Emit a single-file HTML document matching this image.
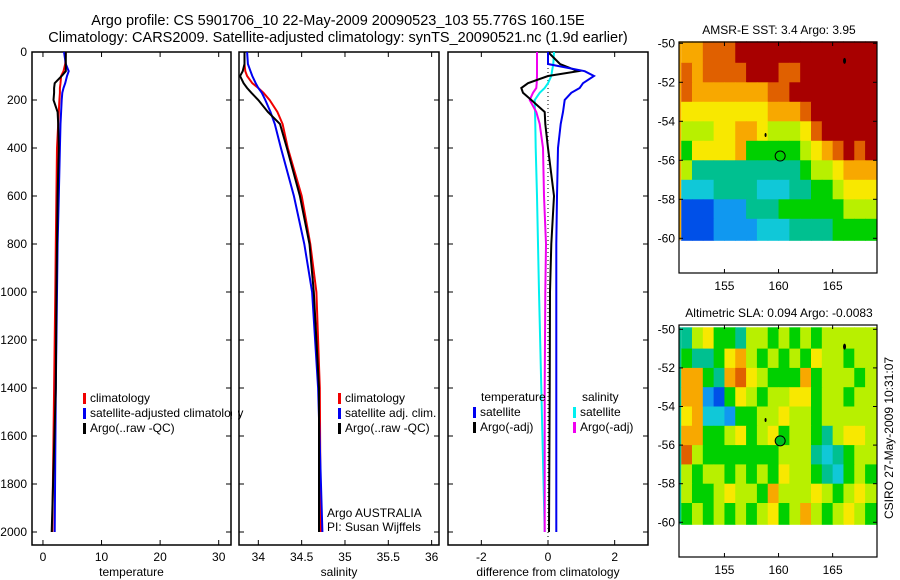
<!DOCTYPE html>
<html><head><meta charset="utf-8"><style>
body{margin:0;background:#fff;}
svg{display:block;font-family:"Liberation Sans",sans-serif;font-size:12px;}
</style></head><body>
<svg id="fig" width="900" height="580" xmlns="http://www.w3.org/2000/svg">
<text x="338" y="25" text-anchor="middle" font-size="14.5">Argo profile: CS 5901706_10 22-May-2009 20090523_103 55.776S 160.15E</text>
<text x="338" y="42" text-anchor="middle" font-size="14.5">Climatology: CARS2009. Satellite-adjusted climatology: synTS_20090521.nc (1.9d earlier)</text>
<g id="g"></g>
</svg>
<script>
// ---- data ----
const depths = [0,50,80,100,130,150,170,200,250,300,400,600,800,1000,1400,2000];
const tClim = [3.9,3.8,3.5,3.1,3.0,2.9,2.9,2.8,2.7,2.6,2.4,2.3,2.2,2.1,1.9,1.6];
const tSat  = [3.6,3.9,4.4,4.1,3.8,3.5,3.3,3.2,3.1,3.0,2.9,2.7,2.5,2.4,2.2,2.0];
const tArgo = [3.9,3.9,3.9,3.2,2.0,1.9,1.9,1.8,2.5,2.6,2.7,2.5,2.4,2.3,2.2,1.5];
const sClim = [33.84,33.84,33.85,33.87,33.93,34.0,34.06,34.13,34.22,34.28,34.34,34.5,34.6,34.67,34.71,34.72];
const sSat  = [33.87,33.88,33.91,33.93,33.97,34.0,34.04,34.08,34.14,34.19,34.26,34.41,34.53,34.62,34.69,34.74];
const sArgo = [33.84,33.84,33.82,33.79,33.83,33.87,33.92,34.0,34.11,34.25,34.33,34.48,34.59,34.64,34.7,34.7];
const dTSat  = [0,0,1.1,1.38,1.05,0.95,0.7,0.5,0.45,0.38,0.3,0.27,0.25,0.25,0.25,0.25];
const dTArgo = [0,0.36,0.9,0,-0.6,-0.8,-0.75,-0.5,-0.1,-0.08,0,0.18,0.1,0.06,0.05,0.03];
const dSSat  = [0.18,0.16,0.12,0.1,0,-0.1,-0.25,-0.4,-0.39,-0.38,-0.37,-0.33,-0.3,-0.27,-0.2,-0.1];
const dSArgo = [-0.33,-0.33,-0.33,-0.33,-0.34,-0.35,-0.45,-0.55,-0.35,-0.25,-0.15,-0.12,-0.06,-0.08,-0.1,-0.1];
const depthTicks = [0,200,400,600,800,1000,1200,1400,1600,1800,2000];
const tTicks = [0,10,20,30];
const sTicks = [34,34.5,35,35.5,36];
const dTicks = [-2,0,2];
const latTicks = [-50,-52,-54,-56,-58,-60];
const lonTicks = [155,160,165];
const argoLon = 160.15, argoLat = -55.78;
// SST colour-index grid (rows lat -50..-60, cols lon 151..169)
const sstGrid = [
[8,8,9,9,9,10,10,10,10,10,10,10,10,10,10,10,10,10],
[9,8,9,9,9,9,10,10,10,9,9,10,10,10,10,10,10,10],
[9,8,8,8,8,8,8,8,9,9,10,10,10,10,10,10,10,10],
[7,7,7,7,7,7,7,7,8,8,8,9,10,10,10,10,10,10],
[6,6,6,7,7,8,8,7,6,6,6,7,9,10,10,10,10,10],
[5,7,7,7,7,8,5,5,5,5,5,6,7,8,9,10,9,10],
[6,4,4,4,4,4,4,4,4,4,4,5,6,6,7,8,8,8],
[3,3,3,4,4,4,4,3,3,3,4,4,5,5,6,7,7,7],
[1,1,1,2,2,2,4,4,4,5,5,5,5,5,5,6,6,6],
[1,1,1,2,2,2,2,3,3,3,4,4,4,4,5,5,5,5]];
const slaGrid = [
[4,6,7,5,5,4,6,6,5,6,5,6,5,6,6,6,6,6],
[5,4,4,5,7,8,6,5,6,5,6,5,7,6,6,5,6,6],
[8,8,5,4,8,9,7,6,5,5,5,8,5,6,6,6,5,6],
[8,8,2,1,5,7,6,5,6,6,7,7,5,6,6,5,6,6],
[7,8,3,3,2,5,5,6,6,7,6,6,5,6,6,6,6,6],
[8,8,5,5,6,7,5,6,7,5,6,6,5,4,6,7,7,6],
[9,6,5,5,5,5,5,5,5,6,6,6,4,3,4,5,6,6],
[6,5,6,6,5,6,5,6,5,7,6,6,5,4,3,5,6,5],
[6,5,5,6,7,6,6,5,8,6,6,6,7,6,5,6,7,6],
[5,6,5,6,5,6,5,6,7,5,6,8,6,5,6,7,6,5]];
const palette = ['#0018c0','#0050e8','#1098f0','#10c8d8','#00c090','#00d000','#b8f000','#f8e800','#f8a800','#e06000','#a80000'];

const NS='http://www.w3.org/2000/svg';
const G=document.getElementById('g');
function mk(tag,at,parent){const e=document.createElementNS(NS,tag);for(const k in at)e.setAttribute(k,at[k]);(parent||G).appendChild(e);return e;}
function txt(x,y,s,anchor,parent){const e=mk('text',{x:x,y:y,'text-anchor':anchor||'start'},parent);e.textContent=s;return e;}
const yD = d => 52 + d*0.24;

function panel(name,x0,x1,vmin,vmax,ticks,fmt,xlabel,showY){
  const xs = v => x0 + (v-vmin)/(vmax-vmin)*(x1-x0);
  const f=mk('rect',{x:x0,y:52,width:x1-x0,height:493,fill:'none',stroke:'#000','stroke-width':1.5});
  
  
  depthTicks.forEach(d=>{
    mk('line',{x1:x0,x2:x0+5,y1:yD(d),y2:yD(d),stroke:'#000'});
    mk('line',{x1:x1-5,x2:x1,y1:yD(d),y2:yD(d),stroke:'#000'});
    if(showY){const t=txt(x0-5,yD(d)+4,String(d),'end');
      
      }
  });
  ticks.forEach(v=>{
    mk('line',{x1:xs(v),x2:xs(v),y1:52,y2:57,stroke:'#000'});
    mk('line',{x1:xs(v),x2:xs(v),y1:540,y2:545,stroke:'#000'});
    const t=txt(xs(v),561,fmt(v),'middle');
    
    
  });
  const xl=txt((x0+x1)/2,576,xlabel,'middle');
  
  
  return xs;
}
function series(xs,vals,color,name,w){
  const pts=vals.map((v,i)=>xs(v).toFixed(1)+','+yD(depths[i]).toFixed(1)).join(' ');
  const p=mk('polyline',{points:pts,fill:'none',stroke:color,'stroke-width':w||2});
  
  
}
function legend(x,y,items){
  items.forEach((it,i)=>{
    mk('rect',{x:x,y:y+i*15-9,width:3,height:11,fill:it[0]});
    const t=txt(x+7,y+i*15,it[1]);
    
    
  });
}

// temperature
const xT=panel('temperature-panel',32,231,-1.87,32.1,tTicks,v=>String(v),'temperature',true);
series(xT,tClim,'#f00000','temp-climatology-line');
series(xT,tSat,'#0000f0','temp-satellite-line');
series(xT,tArgo,'#000','temp-argo-line');
legend(83,402,[['#f00000','climatology'],['#0000f0','satellite-adjusted climatology'],['#000','Argo(..raw -QC)']]);
mk('rect',{x:232,y:53,width:6,height:500,fill:'#fff'});
// salinity
const xS=panel('salinity-panel',239,439,33.777,36.085,sTicks,v=>String(v),'salinity',false);
series(xS,sClim,'#f00000','sal-climatology-line');
series(xS,sSat,'#0000f0','sal-satellite-line');
series(xS,sArgo,'#000','sal-argo-line');
legend(338,402,[['#f00000','climatology'],['#0000f0','satellite adj. clim.'],['#000','Argo(..raw -QC)']]);
txt(327,517,'Argo AUSTRALIA');
txt(327,531,'PI: Susan Wijffels');
// difference
const xDf=panel('difference-panel',448,648,-3,3,dTicks,v=>String(v),'difference from climatology',false);
mk('line',{x1:xDf(0),x2:xDf(0),y1:52,y2:545,stroke:'#000','stroke-dasharray':'1,3'});
series(xDf,dSSat,'#00f0f0','diff-sal-satellite-line');
series(xDf,dSArgo,'#f000f0','diff-sal-argo-line');
series(xDf,dTArgo,'#000','diff-temp-argo-line');
series(xDf,dTSat,'#0000f0','diff-temp-satellite-line');
txt(481,401,'temperature');
txt(582,401,'salinity');
legend(473,416,[['#0000f0','satellite'],['#000','Argo(-adj)']]);
legend(573,416,[['#00f0f0','satellite'],['#f000f0','Argo(-adj)']]);

// maps
function map(name,top,latTop,lat60,bot,grid,title,filled){
  const L=679,R=877,lon0=150.8,lon1=169.1;
  const xm = lon => L + (lon-lon0)/(lon1-lon0)*(R-L);
  const ym = lat => latTop + (-50-lat)/10*(lat60-latTop);
  grid.forEach((row,r)=>row.forEach((v,c)=>{
    const x=Math.max(L,xm(151+c)), x2=c==row.length-1?R:xm(152+c);
    const y=ym(-50-r)-(r==0?2:0), y2=ym(-51-r)+(r==grid.length-1?2:0);
    const cell=mk('rect',{x:x,y:y,width:x2-x+0.5,height:y2-y+0.5,fill:palette[v]});
    
    
  }));
  if(grid.length){mk('rect',{x:L,y:ym(-50)-2,width:xm(151)-L,height:ym(-60)-ym(-50)+4,fill:palette[grid[0][0]]});}
  const fr=mk('rect',{x:L,y:top,width:R-L,height:bot-top,fill:'none',stroke:'#000','stroke-width':1.2});
  
  
  latTicks.forEach(l=>{mk('line',{x1:L,x2:L+4,y1:ym(l),y2:ym(l),stroke:'#000'});mk('line',{x1:R-4,x2:R,y1:ym(l),y2:ym(l),stroke:'#000'});
    const t=txt(L-4,ym(l)+4,String(l),'end');});
  lonTicks.forEach(l=>{mk('line',{x1:xm(l),x2:xm(l),y1:top,y2:top+4,stroke:'#000'});mk('line',{x1:xm(l),x2:xm(l),y1:bot-4,y2:bot,stroke:'#000'});
    const t=txt(xm(l),bot+17,String(l),'middle');});
  const tt=txt(779,top-8,title,'middle');
  const c=mk('circle',{cx:xm(argoLon),cy:ym(argoLat),r:5,fill:filled?'#00c020':'none',stroke:'#000'});
  
  
  mk('ellipse',{cx:xm(166.1),cy:ym(-50.9),rx:1.5,ry:3,fill:'#000'});
  mk('ellipse',{cx:xm(158.8),cy:ym(-54.7),rx:1,ry:2,fill:'#000'});
}
map('sst-map',42,43.3,238.3,273,sstGrid,'AMSR-E SST: 3.4  Argo: 3.95',false);
map('sla-map',325,329.3,522.3,557,slaGrid,'Altimetric SLA: 0.094  Argo: -0.0083',true);
const cs=txt(0,0,'CSIRO 27-May-2009 10:31:07','middle');
cs.setAttribute('transform','translate(893,438) rotate(-90)');


</script>
</body></html>
